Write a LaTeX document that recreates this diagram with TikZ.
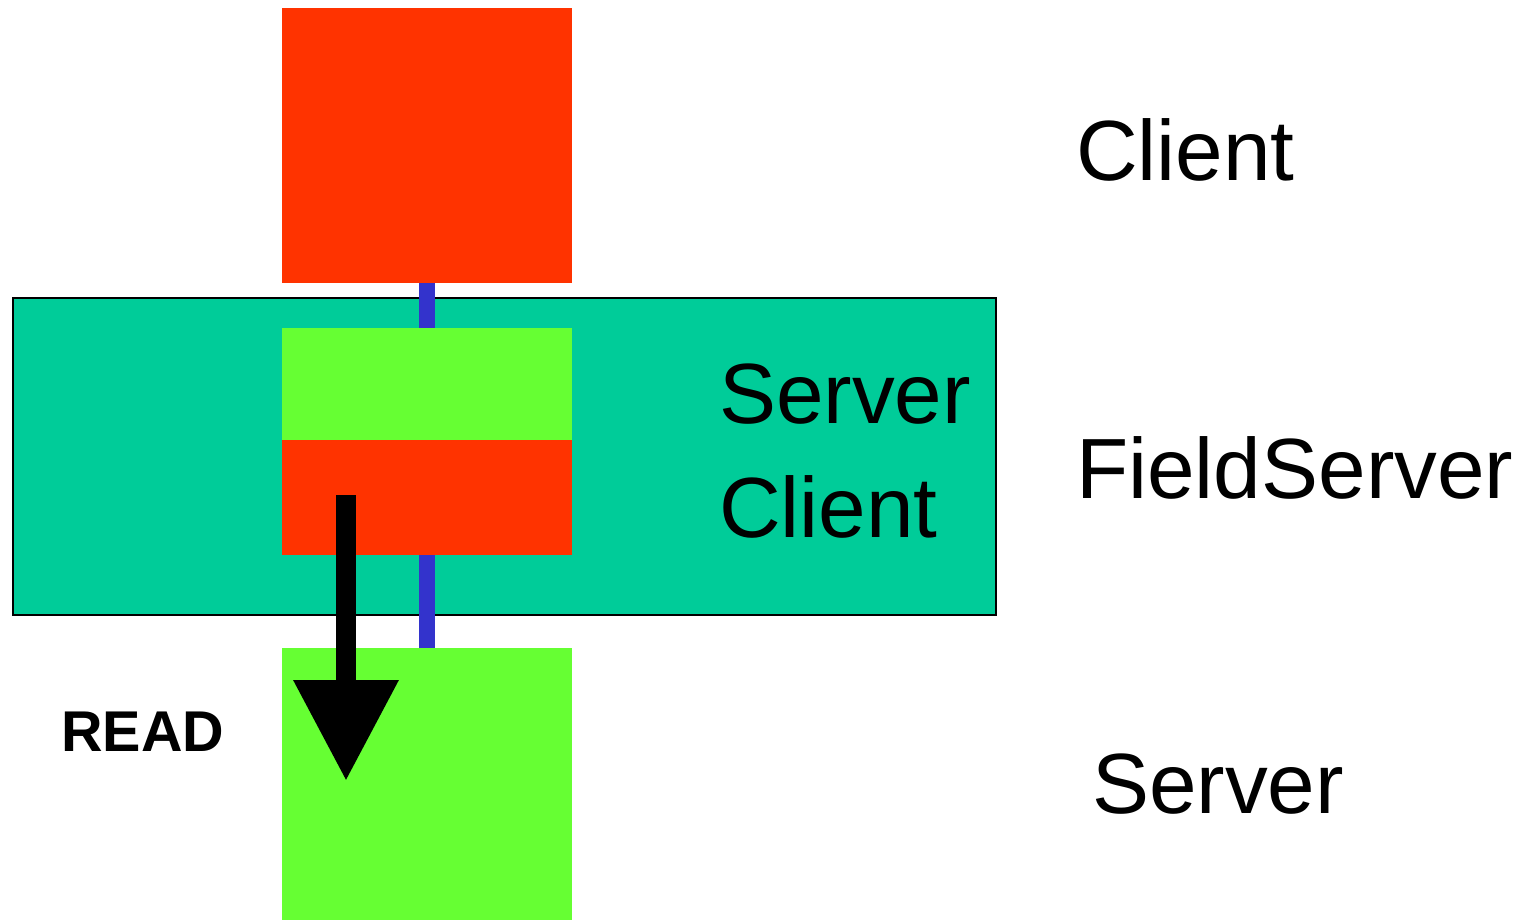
\documentclass[tikz,border=0pt]{standalone}
\usepackage{fontspec}
\setmainfont{Liberation Sans}
\usetikzlibrary{arrows.meta}
\definecolor{cred}{HTML}{FF3300}
\definecolor{cgreen}{HTML}{66FF33}
\definecolor{cteal}{HTML}{00CC99}
\definecolor{cblue}{HTML}{3333CC}
\tikzset{
  box/.style={draw=none, inner sep=0pt, outer sep=0pt},
  lbl/.style={inner sep=0pt, anchor=base west, font=\fontsize{85.5}{90}\selectfont},
  link/.style={cblue, line width=16pt},
}
\begin{document}
\begin{tikzpicture}[x=1pt,y=-1pt]
\useasboundingbox (0,0) rectangle (1535,920);
% field server frame
\draw[fill=cteal, draw=black, line width=2pt] (13,298) rectangle (996,615);
% blue links
\coordinate (l1a) at (427,283);
\coordinate (l1b) at (427,328);
\coordinate (l2a) at (427,555);
\coordinate (l2b) at (427,648);
\draw[link] (l1a) -- (l1b);
\draw[link] (l2a) -- (l2b);
% boxes
\fill[cred] (282,8) rectangle (572,283);
\fill[cgreen] (282,328) rectangle (572,440);
\fill[cred] (282,440) rectangle (572,555);
\fill[cgreen] (282,648) rectangle (572,920);
% arrow
\coordinate (as) at (346,495);
\coordinate (ae) at (346,781);
\draw[line width=20pt, -{Triangle[width=100pt,length=101pt]}] (as) -- (ae);
% labels
\node[lbl] (tc) at (1076,181) {Client};
\node[lbl] (tfs) at (1076,498) {FieldServer};
\node[lbl] (ts) at (1092,813) {Server};
\node[lbl] (is) at (719,423) {Server};
\node[lbl] (ic) at (719,537) {Client};
\node[inner sep=0pt, anchor=base west, font=\bfseries\fontsize{57.5}{60}\selectfont] (rd) at (61,751) {READ};
\end{tikzpicture}
\end{document}
